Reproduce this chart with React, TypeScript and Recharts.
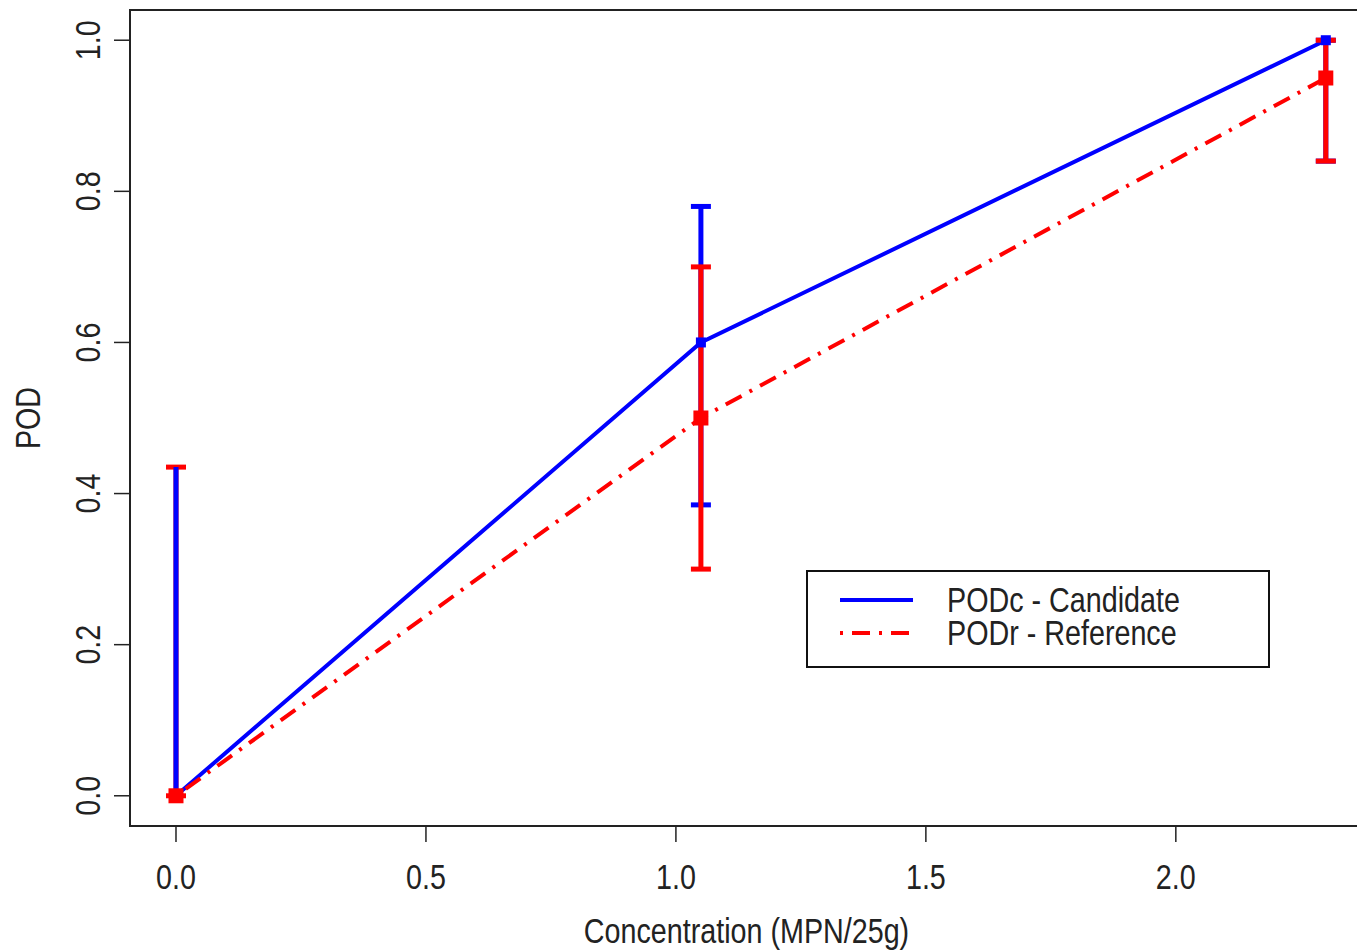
import React from "react";
import {
  ComposedChart,
  Line,
  Scatter,
  ErrorBar,
  XAxis,
  YAxis,
  ReferenceArea,
  Label,
} from "recharts";

const concentration = [0, 1.05, 2.3];
const podCandidate = [0, 0.6, 1.0];
const candidateLower = [0, 0.385, 0.84];
const candidateUpper = [0.435, 0.78, 1.0];
const podReference = [0, 0.5, 0.95];
const referenceLower = [0, 0.3, 0.84];
const referenceUpper = [0.435, 0.7, 1.0];

const xTicks = [0, 0.5, 1.0, 1.5, 2.0];
const yTicks = [0, 0.2, 0.4, 0.6, 0.8, 1.0];

const legendNames = ["PODc - Candidate", "PODr - Reference"];

const FONT = "'Liberation Sans', Arial, sans-serif";
const SQUEEZE = 0.82;
const BLUE = "#0000ff";
const RED = "#ff0000";
const DASHDOT = "3 9 18 9";

const rows = concentration.map((x, i) => ({
  x,
  cand: podCandidate[i],
  ref: podReference[i],
  candErr: [podCandidate[i] - candidateLower[i], candidateUpper[i] - podCandidate[i]],
  refErr: [podReference[i] - referenceLower[i], referenceUpper[i] - podReference[i]],
}));

// narrow text, like the R windows device font
const squeeze = (x: number, y: number) =>
  `translate(${x}, ${y}) scale(${SQUEEZE}, 1) translate(${-x}, ${-y})`;

const XTick = (props: any) => {
  const { x, y, payload } = props;
  return (
    <text
      x={x}
      y={y}
      transform={squeeze(x, y)}
      textAnchor="middle"
      dominantBaseline="central"
      fontFamily={FONT}
      fontSize={35}
      fill="#222"
    >
      {Number(payload.value).toFixed(1)}
    </text>
  );
};

const YTick = (props: any) => {
  const { x, y, payload } = props;
  return (
    <text
      x={x}
      y={y}
      transform={`rotate(-90, ${x}, ${y}) ${squeeze(x, y)}`}
      textAnchor="middle"
      dominantBaseline="central"
      fontFamily={FONT}
      fontSize={35}
      fill="#222"
    >
      {Number(payload.value).toFixed(1)}
    </text>
  );
};

const Square = (size: number, color: string) => (props: any) => {
  const { cx, cy } = props;
  if (cx == null || cy == null) return <g />;
  return <rect x={cx - size / 2} y={cy - size / 2} width={size} height={size} fill={color} />;
};

const Empty = () => <g />;

const LegendBox = () => (
  <div
    style={{
      position: "absolute",
      left: 806,
      top: 570,
      width: 464,
      height: 98,
      border: "2px solid #111",
      boxSizing: "border-box",
      background: "#fff",
      fontFamily: FONT,
      fontSize: 35,
      color: "#222",
    }}
  >
    <svg width={464} height={98} style={{ position: "absolute", left: -2, top: -2 }}>
      <line x1={34} x2={107} y1={30} y2={30} stroke={BLUE} strokeWidth={4} />
      <line x1={34} x2={107} y1={63} y2={63} stroke={RED} strokeWidth={4} strokeDasharray={DASHDOT} />
    </svg>
    {legendNames.map((name, i) => (
      <div
        key={name}
        style={{
          position: "absolute",
          left: 139,
          top: 13 + i * 33,
          lineHeight: "30px",
          whiteSpace: "nowrap",
          transform: `scaleX(${SQUEEZE})`,
          transformOrigin: "left center",
        }}
      >
        {name}
      </div>
    ))}
  </div>
);

const App = () => {
  return (
    <div style={{ position: "absolute", left: 0, top: 0, width: 1357, height: 950, background: "#fff" }}>
      <ComposedChart
        width={1357}
        height={950}
        data={rows}
        margin={{ top: 10, right: 0, left: 0, bottom: 0 }}
      >
        <XAxis
          dataKey="x"
          type="number"
          domain={[-0.092, 2.3624]}
          allowDataOverflow
          ticks={xTicks}
          tick={<XTick />}
          tickSize={16}
          tickMargin={35}
          tickLine={{ stroke: "#222", strokeWidth: 1.5 }}
          axisLine={false}
          height={124}
        >
          <Label
            content={(p: any) => {
              const vb = p.viewBox;
              const cx = vb.x + vb.width / 2 + 3;
              return (
                <text
                  x={cx}
                  y={943}
                  transform={squeeze(cx, 943)}
                  textAnchor="middle"
                  fontFamily={FONT}
                  fontSize={35}
                  fill="#222"
                >
                  Concentration (MPN/25g)
                </text>
              );
            }}
          />
        </XAxis>
        <YAxis
          type="number"
          domain={[-0.04, 1.04]}
          allowDataOverflow
          ticks={yTicks}
          tick={<YTick />}
          tickSize={16}
          tickMargin={26}
          tickLine={{ stroke: "#222", strokeWidth: 1.5 }}
          axisLine={false}
          width={130}
        >
          <Label
            content={(p: any) => {
              const vb = p.viewBox;
              const cy = vb.y + vb.height / 2;
              return (
                <text
                  x={28}
                  y={cy}
                  transform={`rotate(-90, 28, ${cy}) ${squeeze(28, cy)}`}
                  textAnchor="middle"
                  dominantBaseline="central"
                  fontFamily={FONT}
                  fontSize={35}
                  fill="#222"
                >
                  POD
                </text>
              );
            }}
          />
        </YAxis>
        <ReferenceArea
          x1={-0.092}
          x2={2.392}
          y1={-0.04}
          y2={1.04}
          ifOverflow="visible"
          fill="none"
          stroke="#222"
          strokeWidth={2}
        />
        <Line
          dataKey="cand"
          stroke={BLUE}
          strokeWidth={4}
          dot={false}
          activeDot={false}
          isAnimationActive={false}
        />
        <Line
          dataKey="ref"
          stroke={RED}
          strokeWidth={4}
          strokeDasharray={DASHDOT}
          dot={false}
          activeDot={false}
          isAnimationActive={false}
        />
        <Scatter data={rows.slice(0, 1)} dataKey="ref" shape={<Empty />} isAnimationActive={false}>
          <ErrorBar dataKey="refErr" direction="y" width={10} strokeWidth={5} stroke={RED} isAnimationActive={false} />
        </Scatter>
        <Scatter data={rows.slice(0, 1)} dataKey="cand" shape={<Empty />} isAnimationActive={false}>
          <ErrorBar dataKey="candErr" direction="y" width={0} strokeWidth={5} stroke={BLUE} isAnimationActive={false} />
        </Scatter>
        <Scatter data={rows.slice(1)} dataKey="cand" shape={<Empty />} isAnimationActive={false}>
          <ErrorBar dataKey="candErr" direction="y" width={10} strokeWidth={5} stroke={BLUE} isAnimationActive={false} />
        </Scatter>
        <Scatter data={rows.slice(1)} dataKey="ref" shape={<Empty />} isAnimationActive={false}>
          <ErrorBar dataKey="refErr" direction="y" width={10} strokeWidth={5} stroke={RED} isAnimationActive={false} />
        </Scatter>
        <Scatter data={rows} dataKey="cand" shape={Square(10, BLUE)} isAnimationActive={false} />
        <Scatter data={rows} dataKey="ref" shape={Square(15, RED)} isAnimationActive={false} />
      </ComposedChart>
      <LegendBox />
    </div>
  );
};

export default App;
